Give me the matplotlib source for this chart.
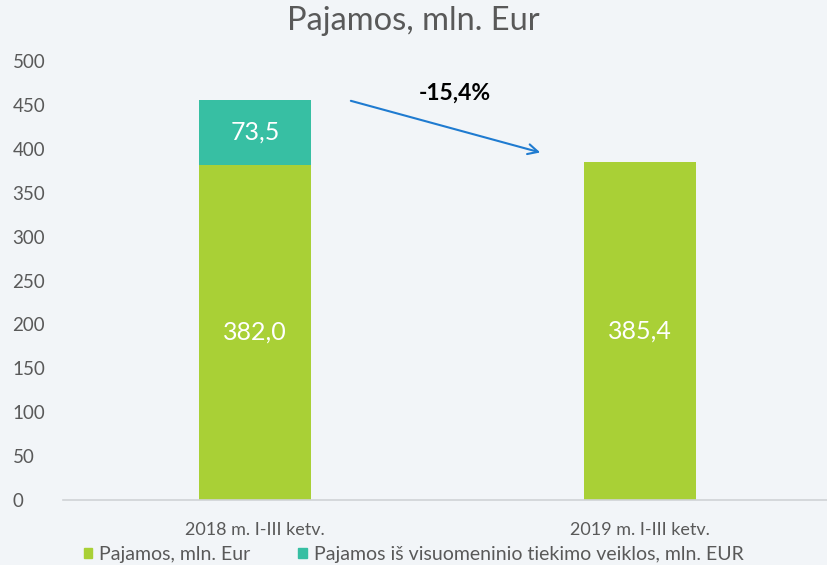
import matplotlib.pyplot as plt
from matplotlib.patches import Patch

categories = ['2018 m. I-III ketv.', '2019 m. I-III ketv.']
pajamos = [382.0, 385.4]
visuomeninis = [73.5, 0.0]
change_label = '-15,4%'

green = '#A9D036'
teal = '#37BFA3'
bg = '#F2F5F8'
grey = '#595959'

plt.rcParams['font.family'] = ['Lato', 'DejaVu Sans']

fig = plt.figure(figsize=(8.27, 5.65), dpi=100, facecolor=bg)
ax = fig.add_axes([0.0756, 0.115, 0.931, 0.777], facecolor=bg)

x = list(range(len(categories)))
width = 0.291
ax.bar(x, pajamos, width, color=green, label='Pajamos, mln. Eur')
ax.bar(x, visuomeninis, width, bottom=pajamos, color=teal,
       label='Pajamos iš visuomeninio tiekimo veiklos, mln. EUR')

# data labels
for i in x:
    ax.text(i, pajamos[i] / 2, f'{pajamos[i]:.1f}'.replace('.', ','),
            ha='center', va='center', color='white', fontsize=18)
    if visuomeninis[i] > 0:
        ax.text(i, pajamos[i] + visuomeninis[i] / 2,
                f'{visuomeninis[i]:.1f}'.replace('.', ','),
                ha='center', va='center', color='white', fontsize=18)

# change arrow
top0 = pajamos[0] + visuomeninis[0]
ax.annotate('', xy=(0.748, 395), xytext=(0.242, top0),
            arrowprops=dict(arrowstyle='->', color='#1F7BD0', lw=1.5,
                            mutation_scale=18))
ax.text(0.52, 463, change_label, ha='center', va='center',
        fontsize=16.5, fontweight='bold', color='black')

ax.set_xlim(-0.5, 1.5)
ax.set_ylim(0, 500)
ax.set_yticks(range(0, 501, 50))
ax.set_xticks(x)
ax.set_xticklabels(categories)
ax.tick_params(axis='both', length=0, colors=grey)
ax.tick_params(axis='x', pad=16, labelsize=13)
ax.tick_params(axis='y', pad=36, labelsize=13.5)
for lab in ax.get_yticklabels():
    lab.set_horizontalalignment('left')

for s in ['top', 'right', 'left']:
    ax.spines[s].set_visible(False)
ax.spines['bottom'].set_color('#D0D3D6')
ax.spines['bottom'].set_linewidth(1.2)

fig.text(0.5, 0.962, 'Pajamos, mln. Eur', ha='center', va='center',
         fontsize=23.5, color=grey)

handles = [Patch(color=green), Patch(color=teal)]
fig.legend(handles, ['Pajamos, mln. Eur',
                     'Pajamos iš visuomeninio tiekimo veiklos, mln. EUR'],
           loc='lower left', bbox_to_anchor=(0.08, -0.027), ncol=2,
           frameon=False, fontsize=14, handlelength=0.45, handleheight=0.45,
           handletextpad=0.35, columnspacing=2.45, labelcolor=grey)

fig.savefig('out.png', dpi=100, facecolor=bg)
